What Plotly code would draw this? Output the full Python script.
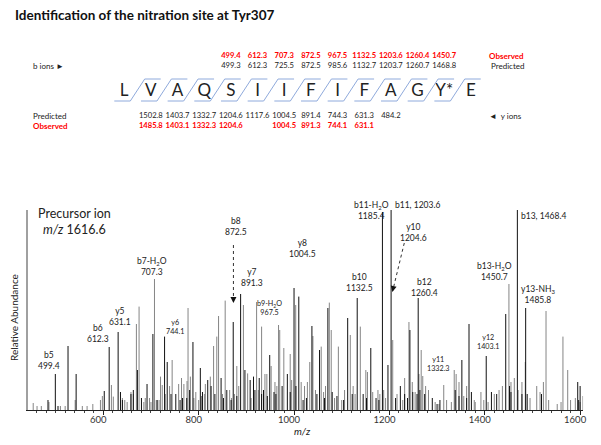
import plotly.graph_objects as go

W, H = 601, 445

# ---------------- data ----------------
title_text = "Identification of the nitration site at Tyr307"
residues = ["L", "V", "A", "Q", "S", "I", "I", "F", "I", "F", "A", "G", "Y*", "E"]
# b5..b13 (sit above residues 5..13)
b_pred = [499.3, 612.3, 725.5, 872.5, 985.6, 1132.7, 1203.7, 1260.7, 1468.8]
b_obs = [499.4, 612.3, 707.3, 872.5, 967.5, 1132.5, 1203.6, 1260.4, 1450.7]
# y13..y4 (sit below residues 2..11)
y_pred = [1502.8, 1403.7, 1332.7, 1204.6, 1117.6, 1004.5, 891.4, 744.3, 631.3, 484.2]
y_obs = [1485.8, 1403.1, 1332.3, 1204.6, None, 1004.5, 891.3, 744.1, 631.1, None]

black_mz = [484, 499.4, 505, 526, 543, 602, 612.3, 631.1, 636, 640, 658, 663, 671.5, 680,
            691.7, 704, 713, 728.5, 734, 742, 752, 761, 766, 775, 781, 788, 803.5, 808, 819,
            826, 834, 847, 852, 859, 868, 872.5, 880, 888, 897, 908, 915, 918, 927, 932,
            936, 944, 949, 958, 962, 975, 986, 992, 1000, 1004, 1010, 1019, 1026, 1037.5,
            1048, 1053.5, 1064, 1071, 1080, 1090, 1104, 1112.5, 1122, 1132.5, 1145, 1152,
            1161, 1172, 1178, 1185.4, 1197, 1203.6, 1213, 1223, 1232, 1238, 1243, 1249,
            1258, 1260.4, 1264, 1274, 1290, 1300, 1306, 1338, 1346, 1352, 1362, 1367, 1372,
            1403.1, 1414, 1425, 1444, 1452, 1455, 1468.4, 1478, 1485.8, 1489, 1519, 1595,
            1597, 1600]
black_int = [5, 18, 2, 32, 18, 9.5, 31.5, 39, 9, 5, 8, 10, 20, 6,
             13, 38, 5, 36.7, 24, 8, 8, 5, 6, 6, 10, 34, 21, 9, 15,
             12, 8, 16, 6, 10, 5, 44, 7, 58, 20, 15, 16.7, 10, 16, 8,
             10, 7, 27.5, 9, 8, 12, 18, 9, 61, 12, 56.7, 5, 6, 42,
             8, 30, 6, 51, 9, 7, 5, 46, 8, 56, 8, 6,
             31, 6, 5, 99, 22.5, 100, 6, 12, 8, 6, 40, 9,
             8, 56, 10, 8, 6, 3, 5, 10, 7, 25, 6, 43, 9,
             27, 9, 8, 48, 12, 9, 100, 8, 51, 8, 8, 14,
             5, 12]

gray_mz = [453, 461, 470, 486, 510, 520, 541, 556, 566, 578, 594, 598, 617, 621, 640, 645, 650,
           658, 663, 669.4, 675, 685, 688, 697, 700, 707.3, 711, 717, 720, 723.6, 730, 739,
           744.4, 758, 764, 769, 775.6, 777.7, 782.6, 790, 794, 800, 806, 812, 814, 824.4,
           831.3, 838, 841.7, 850, 855.6, 865, 869, 875, 880, 884, 893.8, 902.7, 910, 921.5,
           925, 932, 939, 943, 952, 960, 964, 967.5, 970, 978.6, 992, 995, 1003.5, 1015,
           1022, 1028, 1033, 1039.6, 1045, 1057, 1062, 1066, 1074, 1078, 1085, 1093, 1100,
           1106, 1118, 1124, 1128, 1139, 1150.6, 1154, 1165, 1176, 1180, 1188, 1192, 1207,
           1216, 1228, 1232, 1241, 1248, 1254, 1262, 1266.7, 1270, 1276, 1282, 1296, 1304,
           1314, 1320, 1330, 1336, 1340, 1346, 1356, 1362, 1378, 1380, 1392, 1398, 1407,
           1420, 1430, 1437, 1450.7, 1455, 1462, 1470, 1478, 1485, 1495, 1509, 1516, 1523,
           1528.5, 1534, 1552, 1560, 1564, 1574, 1580, 1590, 1600, 1606]
gray_int = [3.5, 2, 2, 4, 2, 2, 5, 2, 2, 3, 5, 7, 12.5, 6.7, 6, 5, 4,
            9, 8, 43, 51.7, 4, 6, 6, 4, 65.5, 5, 5, 16.7, 12.5, 8, 12,
            25, 13, 16, 13, 14.5, 51, 16.7, 6, 9, 5, 7, 8, 13, 16.7,
            32, 36.7, 47, 8, 54.7, 10, 6, 8, 22, 12, 52.5, 18.3, 6, 54,
            10, 41.7, 18, 18, 22, 14, 12, 42.5, 40, 31, 28, 15, 52.5, 14,
            12, 14, 24, 37, 10, 31.7, 9, 12, 53.7, 40, 6, 31.7, 5,
            10, 37.5, 12, 8, 41.7, 20, 19, 9, 10, 8, 10, 6, 35,
            8, 5, 16, 44, 14, 9, 18, 30, 17, 12, 10, 4, 3,
            12.5, 5, 4, 20, 18, 14, 7, 12, 5, 4, 9, 5, 4,
            8, 10, 12, 63, 14, 16, 10, 14, 24, 6, 12, 9, 14,
            49.5, 5, 3, 4, 36.7, 20, 5, 6, 4, 7]

# ---------------- helpers ----------------
def px(x):
    return x / W

def py(y):
    return 1 - y / H

def sticks(mz, inten):
    xs, ys = [], []
    for m, v in zip(mz, inten):
        xs += [m, m, None]
        ys += [0, v, None]
    return xs, ys

FONT = "Lato"
RED = "#FF0000"

fig = go.Figure()

gx, gy = sticks(gray_mz, gray_int)
fig.add_trace(go.Scatter(x=gx, y=gy, mode="lines", line=dict(color="#858585", width=1),
                         xaxis="x", yaxis="y", hoverinfo="skip", showlegend=False))
bx, by = sticks(black_mz, black_int)
fig.add_trace(go.Scatter(x=bx, y=by, mode="lines", line=dict(color="#111111", width=1),
                         xaxis="x", yaxis="y", hoverinfo="skip", showlegend=False))

# ---------------- sequence diagram (on x2/y2) ----------------
step = 26.85   # px per residue
x0 = 125       # px of first residue
n = len(residues)
fig.add_trace(go.Scatter(x=list(range(n)), y=[92] * n, mode="text", text=residues,
                         textfont=dict(family=FONT, size=17, color="#222222"),
                         xaxis="x2", yaxis="y2", hoverinfo="skip", showlegend=False,
                         cliponaxis=False))
# separators
sx, sy = [], []
hw, hl, ytop, ybot = 0.27, 0.6, 79, 101
for i in range(n - 1):
    mid = i + 0.5
    sx += [mid - hw - hl, mid - hw, mid + hw, mid + hw + hl, None]
    sy += [ybot, ybot, ytop, ytop, None]
fig.add_trace(go.Scatter(x=sx, y=sy, mode="lines", line=dict(color="#8FAADC", width=1),
                         xaxis="x2", yaxis="y2", hoverinfo="skip", showlegend=False))

b_idx = list(range(4, 4 + len(b_pred)))
y_idx = list(range(1, 1 + len(y_pred)))
num_font = dict(family=FONT, size=7.6, color="#222222")
red_font = dict(family=FONT, size=7.6, color=RED)

def row(idx, vals, yrow, font, bold=False):
    xs = [i for i, v in zip(idx, vals) if v is not None]
    ts = [(f"<b>{v:.1f}</b>" if bold else f"{v:.1f}") for v in vals if v is not None]
    fig.add_trace(go.Scatter(x=xs, y=[yrow] * len(xs), mode="text", text=ts, textfont=font,
                             xaxis="x2", yaxis="y2", hoverinfo="skip", showlegend=False,
                             cliponaxis=False))

row(b_idx, b_obs, 56, red_font, bold=True)
row(b_idx, b_pred, 66, num_font)
row(y_idx, y_pred, 116, num_font)
row(y_idx, y_obs, 126, red_font, bold=True)

ann = []
def A(text, x, y, size=8.5, xanchor="left", yanchor="middle", color="#222222", **kw):
    ann.append(dict(text=text, x=px(x), y=py(y), xref="paper", yref="paper",
                    xanchor=xanchor, yanchor=yanchor, showarrow=False,
                    font=dict(family=FONT, size=size, color=color), **kw))

A(f"<b>{title_text}</b>", 13, 15, size=13.5, color="#111111")
A("b ions ►", 31, 66, size=8)
A("<b>Observed</b>", 530, 56, size=8, xanchor="right", color=RED)
A("Predicted", 530, 66, size=8, xanchor="right")
A("Predicted", 31, 116, size=8)
A("<b>Observed</b>", 31, 126, size=8, color=RED)
A("◄  y ions", 490, 116, size=8)

# spectrum labels
A("Precursor ion<br><i>m/z</i> 1616.6", 36, 221, size=12.5)
two = [
    ("b5<br>499.4", 36, 360, 8.5),
    ("b6<br>612.3", 86, 333, 8.5),
    ("y5<br>631.1", 108, 316, 8.5),
    ("b7-H<sub>2</sub>O<br>707.3", 136, 266, 8.5),
    ("y6<br>744.1", 165, 327, 7.2),
    ("b8<br>872.5", 224, 226, 8.5),
    ("y7<br>891.3", 241, 277, 8.5),
    ("b9-H<sub>2</sub>O<br>967.5", 257, 308, 7.2),
    ("y8<br>1004.5", 289, 249, 8.5),
    ("b10<br>1132.5", 346, 282, 8.5),
    ("b11-H<sub>2</sub>O<br>1185.4", 354, 210, 8.5),
    ("y10<br>1204.6", 401, 232, 8.5),
    ("b12<br>1260.4", 412, 287, 8.5),
    ("y11<br>1332.3", 428, 364, 7.2),
    ("y12<br>1403.1", 478, 342, 7.2),
    ("b13-H<sub>2</sub>O<br>1450.7", 478, 271, 8.5),
    ("y13-NH<sub>3</sub><br>1485.8", 522, 294, 8.5),
]
for t, x, y, s in two:
    A(t, x, y, size=s)
A("b11, 1203.6", 396, 205, size=8.5)
A("b13, 1468.4", 522, 216, size=8.5)

A("Relative Abundance", 14, 317, size=10, xanchor="center", textangle=-90)
A("<i>m/z</i>", 305, 431, size=10, xanchor="center")

# arrow heads
ann.append(dict(x=px(235), y=py(303), xref="paper", yref="paper", text="", showarrow=True,
                ax=0, ay=-7, arrowhead=2, arrowsize=1.2,
                arrowwidth=1, arrowcolor="#111111"))
ann.append(dict(x=px(395), y=py(292), xref="paper", yref="paper", text="", showarrow=True,
                ax=1.5, ay=-6.8, arrowhead=2, arrowsize=1.2, arrowwidth=1,
                arrowcolor="#111111"))

shapes = [
    dict(type="line", xref="paper", yref="paper", x0=px(235), y0=py(245), x1=px(235), y1=py(298),
         line=dict(color="#333333", width=1, dash="dot")),
    dict(type="line", xref="paper", yref="paper", x0=px(407), y0=py(243), x1=px(396.5), y1=py(286),
         line=dict(color="#333333", width=1, dash="dot")),
]

xmin = 1200 + (28 - 392) / 0.48
xmax = 1200 + (587 - 392) / 0.48

fig.update_layout(
    width=W, height=H, margin=dict(l=0, r=0, t=0, b=0),
    paper_bgcolor="white", plot_bgcolor="rgba(0,0,0,0)",
    showlegend=False, annotations=ann, shapes=shapes,
    xaxis=dict(domain=[px(28), px(587)], range=[xmin, xmax], showgrid=False, zeroline=False,
               showline=True, linecolor="#222222", linewidth=1,
               tickmode="linear", tick0=0, dtick=200,
               ticks="outside", ticklen=4, tickcolor="#222222", tickwidth=1,
               ticklabelshift=-5, ticklabelstandoff=-3,
               tickfont=dict(family=FONT, size=9.5, color="#333333"),
               minor=dict(dtick=20, tick0=0, ticks="outside", ticklen=2, tickcolor="#444444",
                          showgrid=False),
               anchor="y"),
    yaxis=dict(domain=[1 - 410 / H, 1 - 210 / H], range=[0, 100], showgrid=False,
               zeroline=False, showline=True, linecolor="#a0a0a0", linewidth=2,
               showticklabels=False, ticks="", anchor="x"),
    xaxis2=dict(domain=[0, 1], range=[-x0 / step, (W - x0) / step], visible=False,
                anchor="y2", fixedrange=True),
    yaxis2=dict(domain=[0, 1], range=[H, 0], visible=False, anchor="x2", fixedrange=True),
)

fig.write_html("out.html", config={"displayModeBar": False, "staticPlot": True},
               post_script="document.body.style.margin='0';document.body.style.overflow='hidden';")
